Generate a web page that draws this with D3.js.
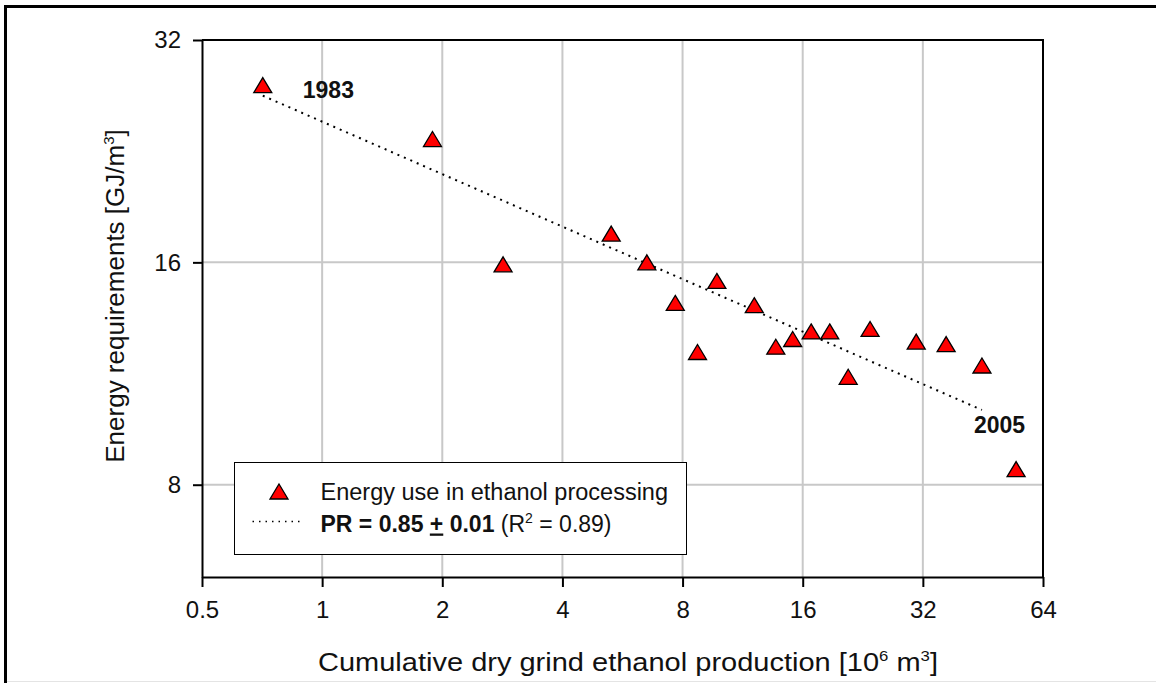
<!DOCTYPE html>
<html>
<head>
<meta charset="utf-8">
<script src="https://cdn.jsdelivr.net/npm/d3@7"></script>
<style>
  body { margin: 0; background: #fff; }
  svg { display: block; font-family: Arial, "Liberation Sans", sans-serif; }
</style>
</head>
<body>
<div id="chart"></div>
<script>
// cumulative production [10^6 m3] and energy use [GJ/m3]
const production = [0.71, 1.89, 2.84, 5.30, 6.51, 7.67, 8.72, 9.75, 12.1, 13.7,
                    15.1, 16.8, 18.7, 20.8, 23.6, 30.8, 36.6, 45.0, 54.8];
const energy = [27.8, 23.5, 15.9, 17.5, 16.0, 14.1, 12.1, 15.1, 14.0, 12.3,
                12.6, 12.9, 12.9, 11.2, 13.0, 12.5, 12.4, 11.6, 8.4];

// trend line end points (PR = 0.85)
const fitX = [0.71, 45];
const fitY = [26.9, 10.1];

const xTicks = [0.5, 1, 2, 4, 8, 16, 32, 64];
const yTicks = [8, 16, 32];

const width = 1156, height = 683;
const plotLeft = 202, plotRight = 1043, plotTop = 40, plotBottom = 577;

const svg = d3.select("#chart")
    .append("svg")
    .attr("width", width)
    .attr("height", height)
;

// page frame (left + top edge, faint bottom edge)
svg.append("line")
    .attr("x1", 5.5).attr("x2", 5.5).attr("y1", 5).attr("y2", height)
    .style("stroke", "#000").style("stroke-width", 3);
svg.append("line")
    .attr("x1", 4).attr("x2", width).attr("y1", 6.5).attr("y2", 6.5)
    .style("stroke", "#000").style("stroke-width", 3);
svg.append("line")
    .attr("x1", 7).attr("x2", width).attr("y1", 681.5).attr("y2", 681.5)
    .style("stroke", "#e4e4e4").style("stroke-width", 1);

const x = d3.scaleLog().base(2)
    .domain([0.5, 64])
    .range([plotLeft, plotRight]);

const y = d3.scaleLog().base(2)
    .domain([6, 32])
    .range([plotBottom, plotTop]);

// grid
svg.append("g")
    .selectAll("line")
    .data(xTicks.slice(1, -1))
    .join("line")
    .attr("x1", d => x(d)).attr("x2", d => x(d))
    .attr("y1", plotTop).attr("y2", plotBottom)
    .style("stroke", "#c8c8c8").style("stroke-width", 2)
;
svg.append("g")
    .selectAll("line")
    .data(yTicks.slice(0, -1))
    .join("line")
    .attr("x1", plotLeft).attr("x2", plotRight)
    .attr("y1", d => y(d)).attr("y2", d => y(d))
    .style("stroke", "#c8c8c8").style("stroke-width", 2)
;

// top and right frame
svg.append("path")
    .attr("d", `M${plotLeft},${plotTop}H${plotRight}V${plotBottom}`)
    .style("fill", "none").style("stroke", "#000").style("stroke-width", 2);

const xAxis = svg.append("g")
    .attr("transform", `translate(0,${plotBottom})`)
    .call(d3.axisBottom(x).tickValues(xTicks).tickFormat(d => d).tickSize(10).tickSizeOuter(0).tickPadding(14));

const yAxis = svg.append("g")
    .attr("transform", `translate(${plotLeft},0)`)
    .call(d3.axisLeft(y).tickValues(yTicks).tickFormat(d => d).tickSize(9).tickSizeOuter(0).tickPadding(12));

[xAxis, yAxis].forEach(a => {
    a.select(".domain").style("stroke", "#000").style("stroke-width", 2);
    a.selectAll(".tick line").style("stroke", "#000").style("stroke-width", 2);
    a.selectAll(".tick text")
        .style("font-family", "Arial, 'Liberation Sans', sans-serif")
        .style("font-size", "24px")
        .style("fill", "#111");
});

// trend line
const line = d3.line()
    .x(d => x(d[0]))
    .y(d => y(d[1]));

svg.append("path")
    .datum(d3.zip(fitX, fitY))
    .attr("d", line)
    .style("fill", "none")
    .style("stroke", "#000")
    .style("stroke-width", 2)
    .style("stroke-dasharray", "2 5");

// triangle centered on its bounding box
const tri = "M0,-7.5L9,7.5L-9,7.5Z";

svg.append("g")
    .selectAll("path")
    .data(d3.zip(production, energy))
    .join("path")
    .attr("d", tri)
    .attr("transform", d => `translate(${x(d[0])},${y(d[1])})`)
    .style("fill", "#f00")
    .style("stroke", "#000")
    .style("stroke-width", 1.3)
;

// year labels
svg.append("text")
    .attr("x", x(production[0]) + 40)
    .attr("y", y(energy[0]) + 13)
    .style("font-size", "23px").style("font-weight", "bold").style("fill", "#111")
    .text("1983");
svg.append("text")
    .attr("x", x(fitX[1]) - 8)
    .attr("y", y(fitY[1]) + 23)
    .style("font-size", "23px").style("font-weight", "bold").style("fill", "#111")
    .text("2005");

// axis titles
const xTitle = svg.append("text")
    .attr("x", 628).attr("y", 671)
    .attr("text-anchor", "middle")
    .attr("textLength", 620)
    .attr("lengthAdjust", "spacingAndGlyphs")
    .style("font-size", "26px").style("fill", "#111");
xTitle.append("tspan").text("Cumulative dry grind ethanol production [10");
xTitle.append("tspan").attr("dy", -10).style("font-size", "15px").text("6");
xTitle.append("tspan").attr("dy", 10).text(" m");
xTitle.append("tspan").attr("dy", -10).style("font-size", "15px").text("3");
xTitle.append("tspan").attr("dy", 10).text("]");

const yTitle = svg.append("text")
    .attr("transform", "translate(124,296) rotate(-90)")
    .attr("text-anchor", "middle")
    .style("font-size", "26px").style("fill", "#111");
yTitle.append("tspan").text("Energy requirements [GJ/m");
yTitle.append("tspan").attr("dy", -10).style("font-size", "15px").text("3");
yTitle.append("tspan").attr("dy", 10).text("]");

// legend
const legend = svg.append("g").attr("transform", "translate(234.5,462.5)");
legend.append("rect")
    .attr("width", 452).attr("height", 92)
    .style("fill", "#fff").style("stroke", "#000").style("stroke-width", 1);
legend.append("path")
    .attr("d", tri)
    .attr("transform", "translate(44.5,29)")
    .style("fill", "#f00").style("stroke", "#000").style("stroke-width", 1.3);
legend.append("text")
    .attr("x", 86).attr("y", 37)
    .style("font-size", "23.5px").style("fill", "#111")
    .text("Energy use in ethanol processing");
legend.append("line")
    .attr("x1", 18).attr("x2", 70).attr("y1", 59).attr("y2", 59)
    .style("stroke", "#000").style("stroke-width", 1.5).style("stroke-dasharray", "1.5 5");
const pr = legend.append("text")
    .attr("x", 86).attr("y", 69)
    .style("font-size", "23px").style("fill", "#111");
pr.append("tspan").style("font-weight", "bold").text("PR = 0.85 ");
pr.append("tspan").style("font-weight", "bold").style("text-decoration", "underline").text("+");
pr.append("tspan").style("font-weight", "bold").text(" 0.01");
pr.append("tspan").text(" (R");
pr.append("tspan").attr("dy", -9).style("font-size", "14px").text("2");
pr.append("tspan").attr("dy", 9).text(" = 0.89)");
</script>
</body>
</html>
